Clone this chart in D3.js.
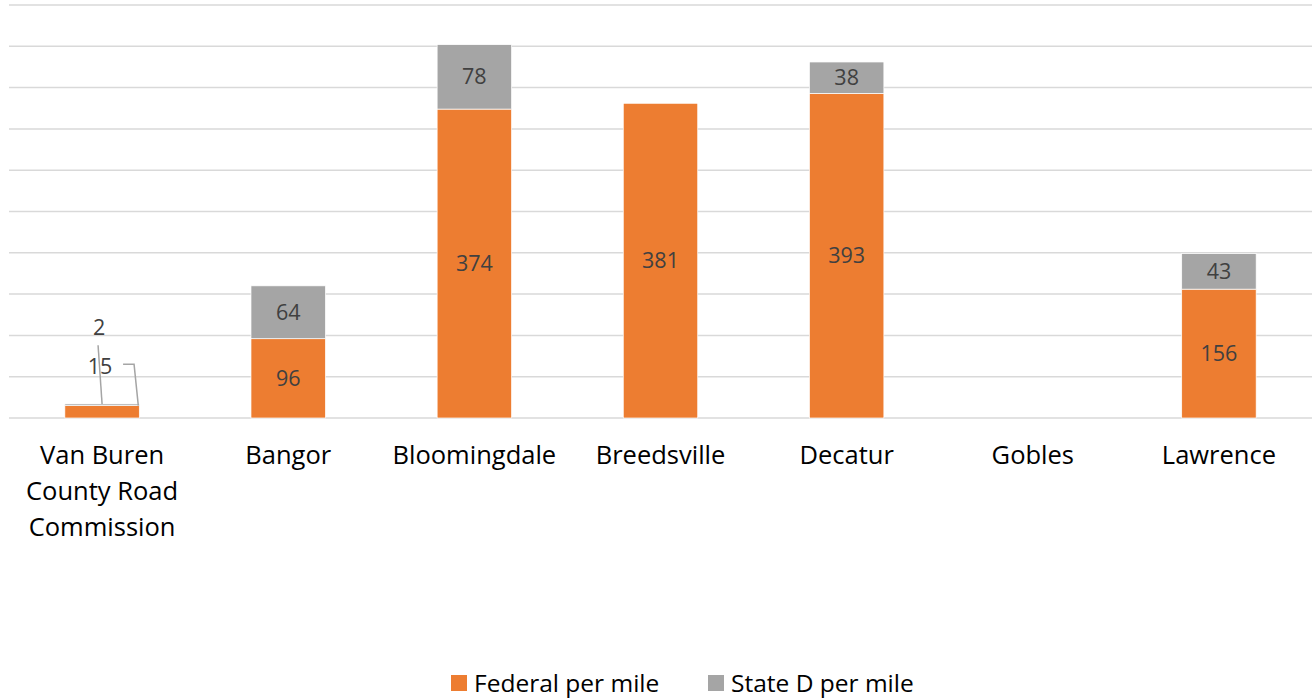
<!DOCTYPE html>
<html>
<head>
<meta charset="utf-8">
<script src="https://cdn.jsdelivr.net/npm/d3@7"></script>
<style>
  body { margin: 0; background: #fff; }
  text { font-family: "Open Sans", "Noto Sans", sans-serif; }
</style>
</head>
<body>
<div id="chart"></div>
<script>
// data
const categories = ["Van Buren County Road Commission", "Bangor", "Bloomingdale", "Breedsville", "Decatur", "Gobles", "Lawrence"];
const federal = [15, 96, 374, 381, 393, 0, 156];
const stateD = [2, 64, 78, 0, 38, 0, 43];
const seriesNames = ["Federal per mile", "State D per mile"];
const colors = ["#ed7d31", "#a5a5a5"];
const yTicks = [0, 50, 100, 150, 200, 250, 300, 350, 400, 450, 500];

const W = 1315, H = 700;
const margin = { top: 5, right: 3, bottom: 282, left: 9 };
const width = W - margin.left - margin.right;
const height = H - margin.top - margin.bottom;

const svg = d3.select("#chart").append("svg")
    .attr("width", W).attr("height", H);
const g = svg.append("g")
    .attr("transform", `translate(${margin.left},${margin.top})`);

const x = d3.scaleBand().domain(categories).range([0, width]).paddingInner(0.6).paddingOuter(0.3);
const y = d3.scaleLinear().domain([0, 500]).range([height, 0]);

// gridlines
g.selectAll(".grid").data(yTicks).enter().append("line")
    .attr("x1", 0).attr("x2", width)
    .attr("y1", d => y(d)).attr("y2", d => y(d))
    .attr("stroke", "#d9d9d9").attr("stroke-width", 1.5);

// stack
const rows = categories.map((c, i) => ({ cat: c, fed: federal[i], st: stateD[i] }));
const stack = d3.stack().keys(["fed", "st"])(rows);

stack.forEach((layer, li) => {
    g.selectAll(".bar" + li).data(layer).enter().append("rect")
        .attr("x", d => x(d.data.cat))
        .attr("y", d => y(d[1]))
        .attr("width", x.bandwidth())
        .attr("height", d => y(d[0]) - y(d[1]))
        .attr("fill", colors[li])
        .attr("stroke", "#fff").attr("stroke-width", 0.7);
});

// data labels inside bars (small ones get callouts)
stack.forEach((layer, li) => {
    g.selectAll(".lab" + li).data(layer.filter(d => (d[1] - d[0]) >= 20)).enter().append("text")
        .attr("x", d => x(d.data.cat) + x.bandwidth() / 2)
        .attr("y", d => (y(d[0]) + y(d[1])) / 2)
        .attr("dy", "0.35em")
        .attr("text-anchor", "middle")
        .attr("font-size", 21.5)
        .attr("fill", "#404040")
        .text(d => d[1] - d[0]);
});

// callouts for the tiny Van Buren bar
const vb = categories[0];
const cx = x(vb) + x.bandwidth() / 2;
const fedTop = y(federal[0]);
const stTop = y(federal[0] + stateD[0]);
// State D "2"
g.append("path")
    .attr("d", `M${cx - 4},${y(88)} L${cx},${stTop}`)
    .attr("fill", "none").attr("stroke", "#a5a5a5").attr("stroke-width", 1.5);
g.append("text")
    .attr("x", cx - 3).attr("y", y(110)).attr("dy", "0.35em")
    .attr("text-anchor", "middle").attr("font-size", 21.5).attr("fill", "#404040")
    .text(stateD[0]);
// Federal "15"
const rx = x(vb) + x.bandwidth();
g.append("path")
    .attr("d", `M${cx + 21},${y(65)} L${cx + 32},${y(65)} L${rx - 1},${fedTop}`)
    .attr("fill", "none").attr("stroke", "#a5a5a5").attr("stroke-width", 1.5);
g.append("text")
    .attr("x", cx - 2).attr("y", y(62)).attr("dy", "0.35em")
    .attr("text-anchor", "middle").attr("font-size", 21.5).attr("fill", "#404040")
    .text(federal[0]);

// x axis labels
const xAxis = g.append("g")
    .attr("transform", `translate(0,${height})`)
    .call(d3.axisBottom(x).tickSize(0).tickPadding(0));
xAxis.select(".domain").remove();
xAxis.selectAll("text").remove();
const wrapLines = { "Van Buren County Road Commission": ["Van Buren", "County Road", "Commission"] };
xAxis.selectAll(".tick").each(function(d) {
    const lines = wrapLines[d] || [d];
    const t = d3.select(this).append("text")
        .attr("text-anchor", "middle")
        .attr("font-size", 25.5)
        .attr("fill", "#000");
    lines.forEach((l, i) => {
        t.append("tspan").attr("x", 0).attr("y", 46 + i * 36).text(l);
    });
});

// legend
const legend = svg.append("g").attr("transform", "translate(451,675)");
const items = [{ name: seriesNames[0], c: colors[0], dx: 0 }, { name: seriesNames[1], c: colors[1], dx: 257 }];
items.forEach(it => {
    legend.append("rect").attr("x", it.dx).attr("y", 0).attr("width", 16).attr("height", 16).attr("fill", it.c);
    legend.append("text").attr("x", it.dx + 23).attr("y", 8).attr("dy", "0.36em")
        .attr("font-size", 24.5).attr("fill", "#000").text(it.name);
});
</script>
</body>
</html>
